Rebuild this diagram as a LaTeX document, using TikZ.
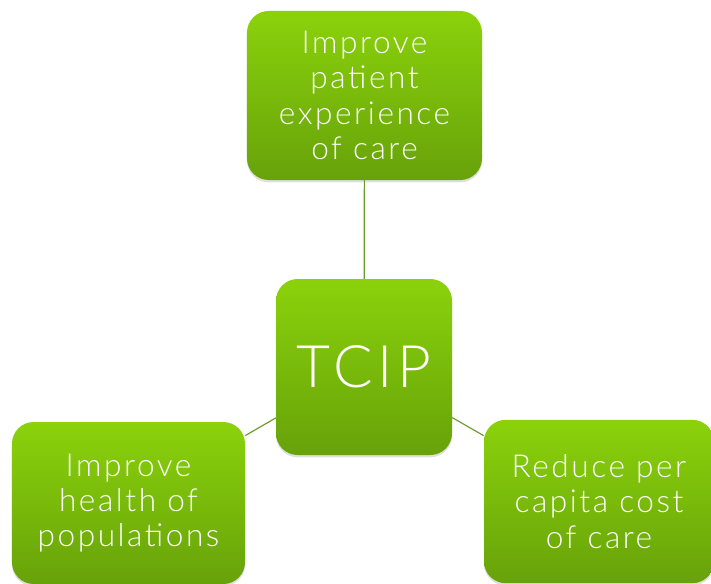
\documentclass[tikz,border=0pt]{standalone}
\usepackage{fontspec}
\setmainfont{Lato}[UprightFont=* Light, LetterSpace=8]
\usepackage{tikz}
\usetikzlibrary{positioning,shadows}

\definecolor{leafTop}{HTML}{8BD20B}
\definecolor{leafBottom}{HTML}{67A20A}
\definecolor{stemLine}{HTML}{6B9B2C}

\begin{document}
\begin{tikzpicture}[x=0.03cm, y=-0.03cm,
    goalbox/.style={rectangle, rounded corners=0.65cm, top color=leafTop, bottom color=leafBottom,
        draw=none, text=white, align=center, font=\fontsize{27}{30}\selectfont,
        drop shadow={opacity=0.25, shadow xshift=0pt, shadow yshift=-2pt}},
    stem/.style={draw=stemLine, line width=1pt}]
    \useasboundingbox (0,0) rectangle (711,583);
    % Square: TCIP
    \node[goalbox, minimum width=5.28cm, minimum height=5.28cm, font=\fontsize{50}{60}\selectfont] (tcip) at (364,367) {TCIP};
    % Rectangle: patient experience
    \node[goalbox, minimum width=7.05cm, minimum height=5.07cm] (experience) at (364.5,95.5) {Improve\\patient\\experience\\of care};
    % Rectangle: population health
    \node[goalbox, minimum width=6.99cm, minimum height=4.86cm] (health) at (128.5,503) {Improve\\health of\\populations};
    % Rectangle: per capita cost
    \node[goalbox, minimum width=6.9cm, minimum height=4.9cm] (cost) at (599,501.5) {Reduce per\\capita cost\\of care};
    % Lines
    \draw[stem] (tcip) -- (experience);
    \draw[stem] (tcip) -- (health);
    \draw[stem] (tcip) -- (cost);
\end{tikzpicture}
\end{document}
